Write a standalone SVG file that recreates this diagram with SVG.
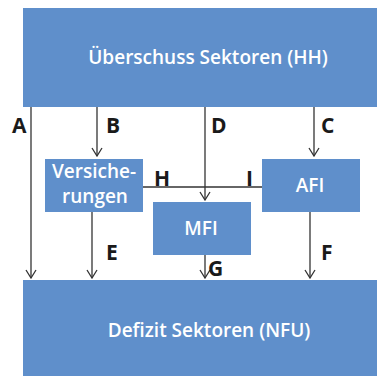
<svg xmlns="http://www.w3.org/2000/svg" width="377" height="376" viewBox="0 0 377 376">
<style>
.box{fill:#5f8fcb}
.t{fill:#fff;font-family:"Open Sans","Liberation Sans",sans-serif;font-weight:600;text-anchor:middle}
.lbl{fill:#1a1a1a;font-family:"Open Sans","Liberation Sans",sans-serif;font-weight:700;font-size:21px}
.ln{stroke:#333;stroke-width:1.3;fill:none}
</style>
<defs>
<marker id="v" viewBox="-6 -9 12 10" refX="0" refY="0" markerWidth="12" markerHeight="10" markerUnits="userSpaceOnUse" orient="0">
<path d="M-5,-8 L0,0 L5,-8" fill="none" stroke="#333" stroke-width="1.3"/>
</marker>
</defs>
<g id="top"><rect class="box" x="23" y="8" width="354" height="99"/><text class="t" x="208" y="64" font-size="19">Überschuss Sektoren (HH)</text></g>
<g id="bottom"><rect class="box" x="23" y="280" width="354" height="96"/><text class="t" x="209" y="337" font-size="19">Defizit Sektoren (NFU)</text></g>
<g id="vers"><rect class="box" x="45" y="159" width="98" height="53"/><text class="t" x="94" y="178" font-size="19">Versiche-</text><text class="t" x="95" y="203" font-size="19">rungen</text></g>
<g id="afi"><rect class="box" x="262" y="159" width="98" height="53"/><text class="t" x="310" y="192" font-size="19">AFI</text></g>
<g id="mfi"><rect class="box" x="153" y="202" width="98" height="53"/><text class="t" x="201" y="235" font-size="19">MFI</text></g>
<g id="connectors">
<line class="ln" x1="31" y1="107" x2="31" y2="278" marker-end="url(#v)"/>
<line class="ln" x1="97" y1="107" x2="97" y2="156" marker-end="url(#v)"/>
<line class="ln" x1="205" y1="107" x2="205" y2="200" marker-end="url(#v)"/>
<line class="ln" x1="314" y1="107" x2="314" y2="156" marker-end="url(#v)"/>
<line class="ln" x1="143" y1="187" x2="262" y2="187"/>
<line class="ln" x1="92" y1="212" x2="92" y2="278" marker-end="url(#v)"/>
<line class="ln" x1="205" y1="255" x2="205" y2="278" marker-end="url(#v)"/>
<line class="ln" x1="310" y1="212" x2="310" y2="278" marker-end="url(#v)"/>
</g>
<g id="labels">
<text class="lbl" x="12" y="133">A</text>
<text class="lbl" x="106" y="133">B</text>
<text class="lbl" x="211" y="133">D</text>
<text class="lbl" x="321" y="133">C</text>
<text class="lbl" x="154" y="186">H</text>
<text class="lbl" x="246" y="186">I</text>
<text class="lbl" x="106" y="260">E</text>
<text class="lbl" x="208" y="276">G</text>
<text class="lbl" x="321" y="260">F</text>
</g>
</svg>
